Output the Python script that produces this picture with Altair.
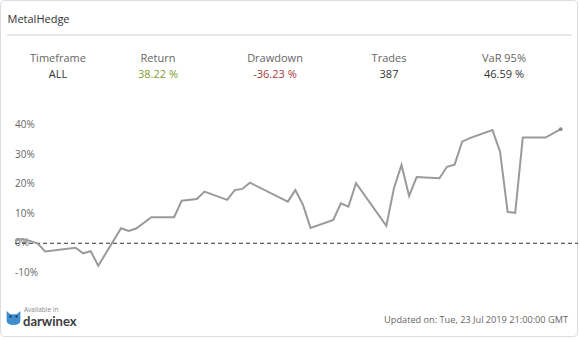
import altair as alt
import pandas as pd

# ---------------- data ----------------
period = [-14, -13, -12, -11, -10, -6, -5, -4, -3, 0, 1, 2, 4, 7, 8, 10, 11, 14, 15, 16,
          17, 22, 23, 24, 25, 28, 29, 30, 31, 35, 36, 37, 38, 39, 42, 43, 44, 45, 46, 49,
          50, 51, 52, 53, 56, 58]
ret_pct = [0.9, 1.4, 0.8, -0.1, -2.8, -1.5, -3.4, -2.7, -7.6, 5.1, 4.2, 5.0, 8.8, 8.8, 14.4,
           15.0, 17.5, 14.7, 18.0, 18.4, 20.5, 14.1, 18.0, 13.0, 5.2, 7.9, 13.5, 12.4, 20.3,
           5.9, 18.6, 26.5, 16.0, 22.4, 22.0, 25.9, 26.6, 34.4, 35.6, 38.3, 31.0, 10.6, 10.3,
           35.8, 35.8, 38.6]

y_ticks = [-10, 0, 10, 20, 30, 40]
title_text = "MetalHedge"
stat_labels = ["Timeframe", "Return", "Drawdown", "Trades", "VaR 95%"]
stat_values = ["ALL", "38.22 %", "-36.23 %", "387", "46.59 %"]
updated_text = "Updated on: Tue, 23 Jul 2019 21:00:00 GMT"
brand_small = "Available in"
brand_name = "darwinex"

# ---------------- layout / style ----------------
W, H = 580, 340
FONT = "Open Sans"
col_x = [58, 158, 275, 389, 504]
value_colors = ["#333333", "#7a9b2e", "#a53a3a", "#333333", "#333333"]

df = pd.DataFrame({"period": period, "ret": ret_pct})
xscale = alt.Scale(domain=[-14, 58], range=[14.9, 560.7], nice=False, zero=False)
yscale = alt.Scale(domain=[-10, 40], range=[272.8, 125.1], nice=False, zero=False)


def one(text):
    return alt.Chart(pd.DataFrame({"t": [text]}))


layers = []

# card border
layers.append(
    one("").mark_rect(filled=False, stroke="#dddddd", strokeWidth=1, cornerRadius=4).encode(
        x=alt.value(0.5), x2=alt.value(577.5), y=alt.value(0.5), y2=alt.value(336.5)
    )
)

# title + divider
layers.append(
    one(title_text).mark_text(align="left", baseline="middle", font=FONT, fontSize=11,
                              color="#333333").encode(
        text="t:N", x=alt.value(7.5), y=alt.value(19.5))
)
layers.append(
    one("").mark_rule(color="#e8e8e8", strokeWidth=2).encode(
        x=alt.value(7), x2=alt.value(572), y=alt.value(35))
)

# stats
for i in range(len(stat_labels)):
    layers.append(
        one(stat_labels[i]).mark_text(align="center", baseline="middle", font=FONT,
                                      fontSize=11, color="#666666").encode(
            text="t:N", x=alt.value(col_x[i]), y=alt.value(59))
    )
    layers.append(
        one(stat_values[i]).mark_text(align="center", baseline="middle", font=FONT,
                                      fontSize=11, color=value_colors[i]).encode(
            text="t:N", x=alt.value(col_x[i]), y=alt.value(75))
    )

# y tick labels (drawn as text through the y scale)
ylab = alt.Chart(pd.DataFrame({"v": y_ticks})).transform_calculate(
    lab="datum.v + '%'"
).mark_text(align="left", baseline="middle", font=FONT, fontSize=10, color="#666666").encode(
    y=alt.Y("v:Q", scale=yscale, axis=None), x=alt.value(15), text="lab:N"
)

# zero line
zero = alt.Chart(pd.DataFrame({"z": [0]})).mark_rule(
    color="#333333", strokeDash=[4, 3], strokeWidth=1
).encode(y=alt.Y("z:Q", scale=yscale, axis=None), x=alt.value(15), x2=alt.value(578))

# equity line
line = alt.Chart(df).mark_line(color="#9a9a9a", strokeWidth=2).encode(
    x=alt.X("period:Q", scale=xscale, axis=None),
    y=alt.Y("ret:Q", scale=yscale, axis=None),
)
last_pt = alt.Chart(df.iloc[[-1]]).mark_point(filled=True, color="#8a8a8a", size=14,
                                              opacity=1).encode(
    x=alt.X("period:Q", scale=xscale, axis=None),
    y=alt.Y("ret:Q", scale=yscale, axis=None),
)

layers += [ylab, zero, line, last_pt]

# footer: darwinex badge
owl_path = ("M-1,-1 L-0.45,-0.55 L0.45,-0.55 L1,-1 L1,0.35 "
            "Q1,1 0,1 Q-1,1 -1,0.35 Z")
layers.append(
    one("").mark_point(shape=owl_path, filled=True, color="#3f8fcf", size=190,
                       opacity=1).encode(x=alt.value(13.5), y=alt.value(318))
)
for ex in (10.5, 16.5):
    layers.append(
        one("").mark_point(filled=True, color="#1f3f5f", size=6, opacity=1).encode(
            x=alt.value(ex), y=alt.value(316.5))
    )
layers.append(
    one(brand_small).mark_text(align="left", baseline="middle", font=FONT, fontSize=6.5,
                               color="#888888").encode(
        text="t:N", x=alt.value(24), y=alt.value(309.5))
)
layers.append(
    one(brand_name).mark_text(align="left", baseline="middle", font="Lato", fontSize=13,
                              fontWeight="bold", color="#3c3c3c").encode(
        text="t:N", x=alt.value(23), y=alt.value(322))
)
layers.append(
    one(updated_text).mark_text(align="right", baseline="middle", font=FONT, fontSize=9.2,
                                color="#666666").encode(
        text="t:N", x=alt.value(568), y=alt.value(319.5))
)

chart = alt.layer(*layers).properties(
    width=W, height=H, padding=0, autosize=alt.AutoSizeParams(type="none"),
    background="white",
).configure_view(stroke=None)

chart.save("out.html", embed_options={"renderer": "svg", "actions": False})
